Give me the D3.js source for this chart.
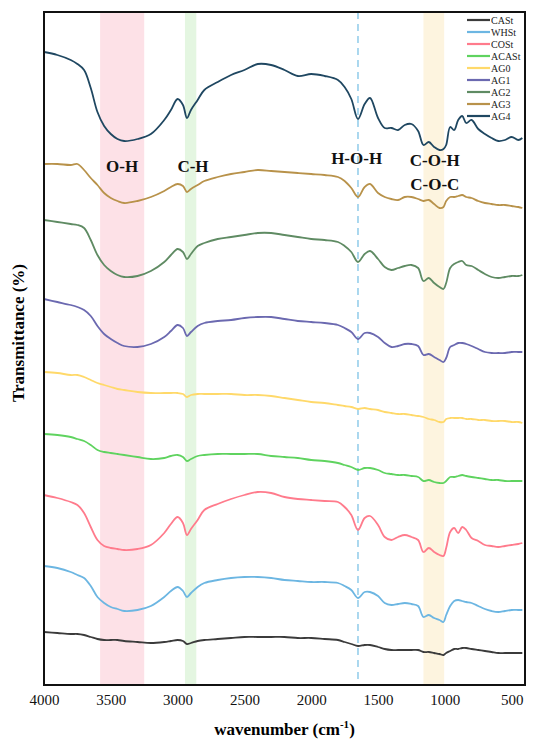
<!DOCTYPE html>
<html>
<head>
<meta charset="utf-8">
<script src="https://cdn.jsdelivr.net/npm/d3@7/dist/d3.min.js"></script>
<style>
  body { margin: 0; background: #fff; }
  svg { display: block; font-family: "Liberation Serif", "Times New Roman", serif; }
</style>
</head>
<body>
<svg width="550" height="748"></svg>
<script>
// wavenumber grid (cm-1) shared by every spectrum
var wavenumber = [4000,3900,3800,3750,3700,3650,3600,3550,3500,3450,3400,
  3300,3200,3100,3050,3000, 2960,2930,2900,2850,2800,
  2700,2600,2500,2400,2300,2200,2100,2000, 1900,1800,1750,1700,1650,
  1600,1560,1500,1450,1400,1350,1300,1250,1200,
  1160,1120,1080,1040,1010,990,960,930,900,
  870,840,800,750,700,650,600,550,500,450,420];

// stacked transmittance (a.u., offset per sample)
var CASt = [5.3,5.2,5.1,5.1,5.0,4.8,4.6,4.5,4.5,4.5,4.4, 4.3,4.2,4.3,4.4,4.5, 4.4,4.1,4.2,4.4,4.5,
  4.6,4.7,4.8,4.8,4.8,4.8,4.7,4.7, 4.6,4.5,4.3,4.1,3.9, 4.0,4.0,3.8,3.6,3.5,3.5,3.5,3.5,3.5,
  3.3,3.3,3.2,3.1,3.0,3.2,3.4,3.6,3.6, 3.7,3.7,3.6,3.5,3.4,3.3,3.2,3.2,3.2,3.2,3.2];
var WHSt = [11.9,11.7,11.3,11.0,10.7,9.9,8.8,8.2,7.8,7.6,7.4, 7.5,7.9,8.8,9.4,9.8, 9.4,8.8,9.2,9.8,10.2,
  10.5,10.7,10.8,10.8,10.7,10.5,10.4,10.3, 10.3,10.2,9.9,9.5,8.7, 9.3,9.3,8.9,8.2,8.0,8.1,8.2,8.1,7.9,
  6.8,7.0,6.7,6.5,6.3,7.0,7.9,8.4,8.5, 8.4,8.3,8.2,7.9,7.6,7.4,7.3,7.4,7.5,7.5,7.5];
var COSt = [19.0,18.7,18.3,18.0,17.2,15.8,14.5,13.9,13.7,13.6,13.5, 13.6,14.0,15.2,16.1,16.8, 16.2,15.0,15.6,16.5,17.5,
  18.1,18.6,19.0,19.3,19.2,18.8,18.6,18.5, 18.4,18.3,17.8,17.0,15.5, 16.7,16.9,16.0,14.8,14.5,14.8,15.0,14.8,14.5,
  13.3,13.7,13.3,13.0,12.9,13.7,15.3,15.7,15.2, 15.8,15.5,14.7,14.4,14.0,13.9,13.8,13.9,14.0,14.1,14.2];
var ACASt = [25.1,25.0,24.8,24.6,24.4,24.0,23.5,23.3,23.2,23.1,23.0, 22.8,22.6,22.7,22.9,23.0, 22.8,22.4,22.6,22.9,23.0,
  23.1,23.1,23.1,23.1,22.9,22.8,22.7,22.5, 22.4,22.2,22.0,21.8,21.5, 21.7,21.7,21.5,21.2,21.1,21.0,21.0,20.9,20.8,
  20.4,20.5,20.3,20.2,20.2,20.4,20.8,20.8,20.9, 21.0,20.9,20.8,20.7,20.6,20.5,20.5,20.4,20.4,20.4,20.4];
var AG0 = [31.3,31.2,31.0,31.0,30.8,30.5,30.2,30.0,29.8,29.6,29.5, 29.3,29.2,29.2,29.2,29.2, 29.1,28.8,29.0,29.1,29.1,
  29.1,29.1,29.0,29.0,28.9,28.7,28.5,28.3, 28.2,28.0,27.9,27.8,27.6, 27.7,27.6,27.5,27.3,27.2,27.1,27.1,27.0,26.9,
  26.8,26.6,26.5,26.3,26.3,26.6,26.7,26.7,26.7, 26.7,26.6,26.6,26.5,26.5,26.4,26.4,26.4,26.3,26.3,26.2];
var AG1 = [38.6,38.3,38.0,37.8,37.5,36.9,35.9,35.1,34.6,34.2,33.9, 33.8,34.1,34.8,35.4,36.0, 35.7,34.9,35.3,35.9,36.2,
  36.4,36.5,36.7,36.8,36.8,36.6,36.4,36.3, 36.2,36.0,35.7,35.3,34.6, 35.2,35.2,34.8,34.2,33.8,33.9,34.1,34.1,33.9,
  33.0,33.1,32.8,32.5,32.3,32.7,33.8,34.0,34.2, 34.2,34.1,33.9,33.6,33.3,33.2,33.2,33.2,33.3,33.3,33.3];
var AG2 = [46.5,46.3,46.1,46.0,45.7,44.5,43.0,42.0,41.4,41.0,40.8, 40.9,41.4,42.3,43.0,43.6, 43.3,42.6,43.1,43.9,44.2,
  44.6,44.8,45.0,45.2,45.2,45.0,44.8,44.6, 44.5,44.3,43.9,43.3,42.3, 43.1,43.4,42.6,41.8,41.5,41.7,41.9,42.0,41.7,
  40.4,40.7,40.2,39.8,39.6,40.2,41.7,42.1,42.3, 42.4,42.0,41.9,41.5,41.1,40.8,40.7,40.8,40.9,40.9,41.0];
var AG3 = [52.1,52.1,52.0,52.1,51.5,50.7,50.0,49.2,48.7,48.4,48.2, 48.4,48.8,49.4,49.8,50.1, 49.9,49.3,49.6,50.0,50.4,
  50.8,51.1,51.3,51.5,51.4,51.3,51.2,51.1, 51.0,50.8,50.4,49.7,48.8, 49.8,50.1,49.2,48.8,48.6,48.5,48.8,48.8,48.6,
  48.4,48.5,48.1,47.7,47.8,48.4,48.8,48.8,48.9, 49.0,48.8,48.7,48.4,48.2,48.1,48.0,48.0,47.9,47.8,47.7];
var AG4 = [63.3,63.0,62.5,62.1,61.5,59.7,57.3,55.9,55.1,54.6,54.4, 54.6,55.1,56.5,57.5,58.6, 58.0,56.7,57.5,58.5,59.5,
  60.3,61.0,61.5,62.1,62.0,61.5,60.9,61.1, 60.9,60.5,59.8,58.6,56.6, 58.1,58.7,56.7,55.7,55.7,55.5,56.0,56.1,55.4,
  54.0,54.3,53.8,53.5,53.6,54.0,55.8,55.5,56.5, 56.9,56.2,56.5,55.6,55.1,54.7,54.4,54.5,54.8,54.5,54.7];

var seriesNames = ["CASt","WHSt","COSt","ACASt","AG0","AG1","AG2","AG3","AG4"];
var seriesValues = [CASt, WHSt, COSt, ACASt, AG0, AG1, AG2, AG3, AG4];
var seriesColors = ["#3b3b3b","#6cb6e2","#ff7b8c","#5fd35f","#ffd96a","#6b69b0","#5f8b63","#b8924a","#1f4761"];

// highlighted absorption regions
var bandLabels = ["O-H", "C-H", "C-O-H"];
var bandRanges = [[3580, 3250], [2945, 2860], [1160, 1005]];
var bandColors = ["#fde1e7", "#e4f6e1", "#fdf4df"];
var waterLine = 1650;

var xTicks = [4000,3500,3000,2500,2000,1500,1000,500];

var margin = {left: 44, top: 12, right: 25, bottom: 63};
var width = 550 - margin.left - margin.right;
var height = 748 - margin.top - margin.bottom;

var svg = d3.select('svg').append('g')
    .attr('transform', 'translate(' + margin.left + ',' + margin.top + ')');

var ScaleX = d3.scaleLinear().domain([4000, 400]).range([0, width]);
var ScaleY = d3.scaleLinear().domain([0, 67.3]).range([height, 0]);

//bands behind everything
svg.selectAll('.band')
    .data(bandRanges)
    .enter()
    .append('rect')
    .attr('x', function(d){ return ScaleX(d[0]); })
    .attr('width', function(d){ return ScaleX(d[1]) - ScaleX(d[0]); })
    .attr('y', 0)
    .attr('height', height)
    .attr('fill', function(d, i){ return bandColors[i]; });

svg.append('line')
    .attr('x1', ScaleX(waterLine)).attr('x2', ScaleX(waterLine))
    .attr('y1', 0).attr('y2', height)
    .attr('stroke', '#8fcbe9')
    .attr('stroke-width', 1.5)
    .attr('stroke-dasharray', '7,5');

var line = d3.line()
    .x(function(d, i){ return ScaleX(wavenumber[i]); })
    .y(function(d){ return ScaleY(d); })
    .curve(d3.curveCatmullRom.alpha(0.5));

svg.selectAll('.spectrum')
    .data(seriesValues)
    .enter()
    .append('path')
    .attr('class', 'spectrum')
    .attr('d', line)
    .attr('fill', 'none')
    .attr('stroke', function(d, i){ return seriesColors[i]; })
    .attr('stroke-width', 1.8);

//band labels
var labelStyle = function(sel){
    sel.style('font-size', '17px').style('font-weight', 'bold')
       .attr('text-anchor', 'middle').attr('fill', '#111');
};
svg.append('text').text('O-H')
    .attr('x', ScaleX(3415)).attr('y', 172 - margin.top).call(labelStyle);
svg.append('text').text('C-H')
    .attr('x', ScaleX(2885)).attr('y', 172 - margin.top).call(labelStyle);
svg.append('text').text('H-O-H')
    .attr('x', ScaleX(1660)).attr('y', 164 - margin.top).call(labelStyle);
svg.append('text').text('C-O-H')
    .attr('x', ScaleX(1075)).attr('y', 166 - margin.top).call(labelStyle);
svg.append('text').text('C-O-C')
    .attr('x', ScaleX(1075)).attr('y', 190 - margin.top).call(labelStyle);

//legend in the top right corner
var legend = svg.append('g').attr('transform', 'translate(' + (width - 58) + ',8)');
var items = legend.selectAll('.item')
    .data(seriesNames)
    .enter()
    .append('g')
    .attr('transform', function(d, i){ return 'translate(0,' + (i * 12) + ')'; });
items.append('line')
    .attr('x1', 0).attr('x2', 23)
    .attr('stroke', function(d, i){ return seriesColors[i]; })
    .attr('stroke-width', 2.2);
items.append('text')
    .text(function(d){ return d; })
    .attr('x', 24).attr('dy', '0.35em')
    .style('font-size', '10px').attr('fill', '#222');

//x axis, no tick marks
var xAxis = svg.append('g')
    .attr('transform', 'translate(0,' + height + ')')
    .call(d3.axisBottom(ScaleX).tickValues(xTicks).tickFormat(d3.format('d')).tickSize(0).tickPadding(9));
xAxis.select('.domain').remove();
xAxis.selectAll('text')
    .style('font-size', '15px')
    .style('font-family', '"Liberation Serif", serif')
    .attr('fill', '#111');

//frame
svg.append('rect')
    .attr('width', width).attr('height', height)
    .attr('fill', 'none').attr('stroke', '#111').attr('stroke-width', 2);

//axis titles
var xTitle = svg.append('text')
    .attr('x', width / 2).attr('y', height + 50)
    .attr('text-anchor', 'middle')
    .style('font-size', '17px').style('font-weight', 'bold');
xTitle.append('tspan').text('wavenumber (cm');
xTitle.append('tspan').text('-1').attr('dy', -7).style('font-size', '11px');
xTitle.append('tspan').text(')').attr('dy', 7);

svg.append('text')
    .text('Transmittance (%)')
    .attr('transform', 'translate(-20,' + (333 - margin.top) + ')rotate(-90)')
    .attr('text-anchor', 'middle')
    .style('font-size', '17px').style('font-weight', 'bold');
</script>
</body>
</html>
